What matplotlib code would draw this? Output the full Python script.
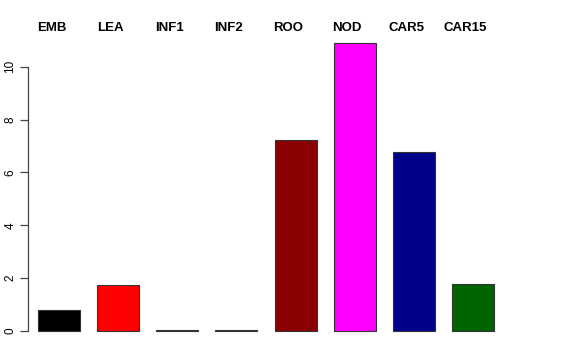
import matplotlib
matplotlib.use('Agg')
import matplotlib.pyplot as plt
import matplotlib.transforms as mtransforms

tissues = ['EMB', 'LEA', 'INF1', 'INF2', 'ROO', 'NOD', 'CAR5', 'CAR15']
values = [0.80, 1.74, 0.02, 0.02, 7.23, 10.9, 6.78, 1.78]
colors = ['#000000', '#FF0000', '#00CD00', '#0000FF', '#8B0000', '#FF00FF', '#00008B', '#006400']

plt.rcParams['font.family'] = ['Liberation Sans', 'DejaVu Sans']

fig = plt.figure(figsize=(5.76, 3.6), dpi=100)
ax = fig.add_axes([28/576, 17.5/360, 476/576, 311/360])

x = range(len(values))
ax.bar(x, values, width=0.71, color=colors, edgecolor='#333333', linewidth=0.8)

ax.set_xlim(-0.525, len(values) - 1 + 0.525)
ax.set_ylim(-0.436, 11.336)

for s in ['top', 'right', 'bottom']:
    ax.spines[s].set_visible(False)
ax.spines['left'].set_bounds(0, 10)
ax.spines['left'].set_color('#444444')
ax.spines['left'].set_linewidth(0.9)
ax.set_xticks([])
ax.set_yticks([0, 2, 4, 6, 8, 10])
ax.tick_params(axis='y', direction='out', length=5.5, width=0.9, color='#444444', pad=3, labelsize=8.5)
plt.setp(ax.get_yticklabels(), rotation=90, va='center')

# tissue names above the bars
trans = mtransforms.blended_transform_factory(ax.transData, fig.transFigure)
for i, name in enumerate(tissues):
    ax.text(i - 0.13, 1 - 28/360, name, transform=trans, ha='center', va='center',
            fontsize=9.5, fontweight='bold')

fig.savefig('out.png', dpi=100)
